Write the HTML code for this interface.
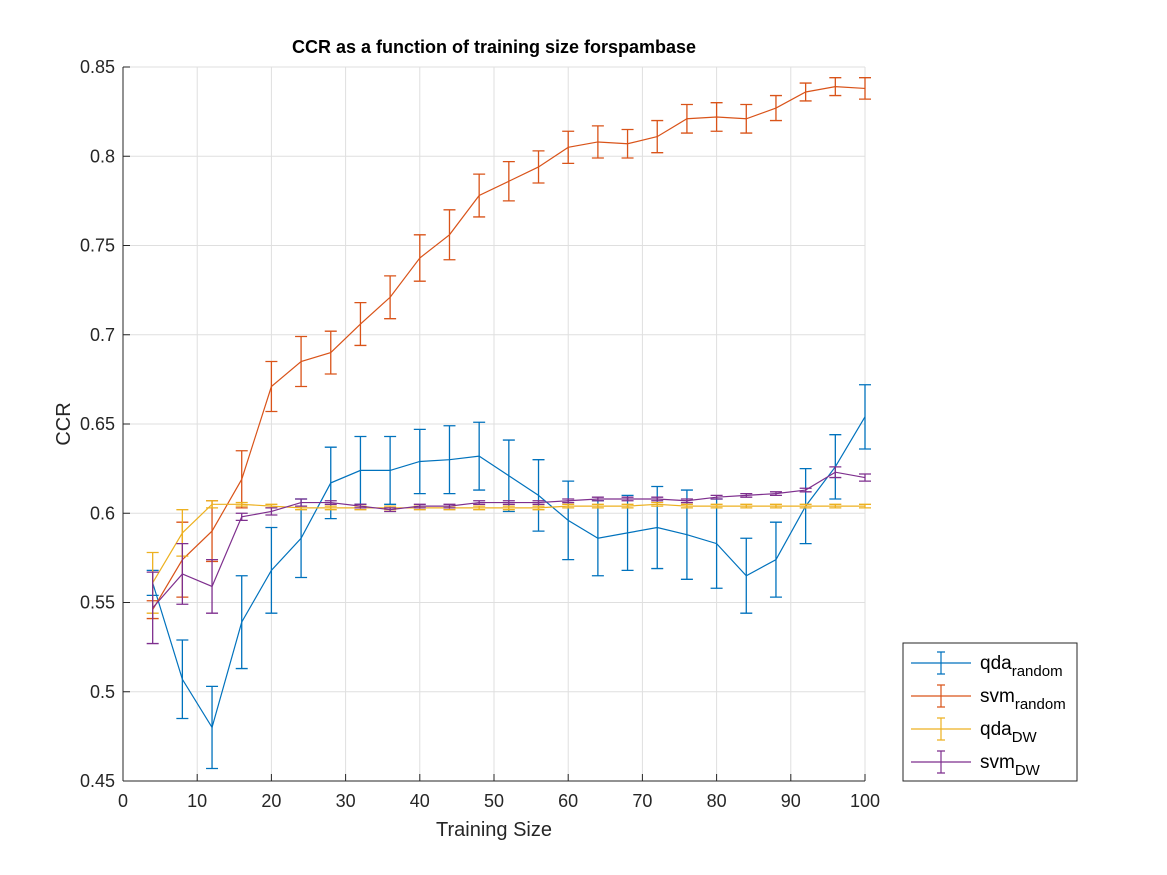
<!DOCTYPE html>
<html><head><meta charset="utf-8"><style>
body{margin:0;background:#fff}
svg{display:block;font-family:"Liberation Sans",Arial,sans-serif}
</style></head><body>
<svg id="chart" width="1167" height="875">
<rect width="1167" height="875" fill="#fff"/>
<g id="grid"></g>
<g id="series"></g>
<g id="axes"></g>
<text x="494" y="53" text-anchor="middle" font-size="18" font-weight="bold">CCR as a function of training size forspambase</text>
<text x="494" y="836" text-anchor="middle" font-size="20" fill="#262626">Training Size</text>
<text x="0" y="0" transform="translate(70,424) rotate(-90)" text-anchor="middle" font-size="20" fill="#262626">CCR</text>
<g id="legend"></g>
</svg>
<script>
const xs=[4,8,12,16,20,24,28,32,36,40,44,48,52,56,60,64,68,72,76,80,84,88,92,96,100];
const qdaRandom=[0.561,0.507,0.480,0.539,0.568,0.586,0.617,0.624,0.624,0.629,0.630,0.632,0.621,0.610,0.596,0.586,0.589,0.592,0.588,0.583,0.565,0.574,0.604,0.626,0.654];
const qdaRandomErr=[0.007,0.022,0.023,0.026,0.024,0.022,0.020,0.019,0.019,0.018,0.019,0.019,0.020,0.020,0.022,0.021,0.021,0.023,0.025,0.025,0.021,0.021,0.021,0.018,0.018];
const svmRandom=[0.546,0.574,0.590,0.619,0.671,0.685,0.690,0.706,0.721,0.743,0.756,0.778,0.786,0.794,0.805,0.808,0.807,0.811,0.821,0.822,0.821,0.827,0.836,0.839,0.838];
const svmRandomErr=[0.005,0.021,0.017,0.016,0.014,0.014,0.012,0.012,0.012,0.013,0.014,0.012,0.011,0.009,0.009,0.009,0.008,0.009,0.008,0.008,0.008,0.007,0.005,0.005,0.006];
const qdaDW=[0.561,0.589,0.605,0.605,0.604,0.603,0.603,0.603,0.603,0.603,0.603,0.603,0.603,0.603,0.604,0.604,0.604,0.605,0.604,0.604,0.604,0.604,0.604,0.604,0.604];
const qdaDWErr=[0.017,0.013,0.002,0.001,0.001,0.001,0.001,0.001,0.001,0.001,0.001,0.001,0.001,0.001,0.001,0.001,0.001,0.001,0.001,0.001,0.001,0.001,0.001,0.001,0.001];
const svmDW=[0.547,0.566,0.559,0.598,0.601,0.606,0.606,0.604,0.602,0.604,0.604,0.606,0.606,0.606,0.607,0.608,0.608,0.608,0.607,0.609,0.610,0.611,0.613,0.623,0.620];
const svmDWErr=[0.020,0.017,0.015,0.002,0.002,0.002,0.001,0.001,0.001,0.001,0.001,0.001,0.001,0.001,0.001,0.001,0.001,0.001,0.001,0.001,0.001,0.001,0.001,0.003,0.002];
const xTicks=[0,10,20,30,40,50,60,70,80,90,100];
const yTicks=[0.45,0.5,0.55,0.6,0.65,0.7,0.75,0.8,0.85];

const X0=123,X1=865,Y0=781,Y1=67;
const sx=v=>X0+(v-0)/(100-0)*(X1-X0);
const sy=v=>Y0-(v-0.45)/(0.85-0.45)*(Y0-Y1);
const NS='http://www.w3.org/2000/svg';
function mk(tag,attrs,parent){const e=document.createElementNS(NS,tag);for(const k in attrs)e.setAttribute(k,attrs[k]);parent.appendChild(e);return e;}
const grid=document.getElementById('grid'),axes=document.getElementById('axes'),ser=document.getElementById('series');
xTicks.forEach(t=>{
  const g=mk('line',{x1:sx(t),x2:sx(t),y1:Y1,y2:Y0,stroke:'#dfdfdf','stroke-width':1},grid);
  
  
  mk('line',{x1:sx(t),x2:sx(t),y1:Y0,y2:Y0-7,stroke:'#262626'},axes);
  const tx=mk('text',{x:sx(t),y:Y0+26,'text-anchor':'middle','font-size':18,fill:'#262626'},axes);
  tx.textContent=t;
  
  
});
yTicks.forEach(t=>{
  const g=mk('line',{x1:X0,x2:X1,y1:sy(t),y2:sy(t),stroke:'#dfdfdf','stroke-width':1},grid);
  
  
  mk('line',{x1:X0,x2:X0+7,y1:sy(t),y2:sy(t),stroke:'#262626'},axes);
  const tx=mk('text',{x:X0-8,y:sy(t)+6,'text-anchor':'end','font-size':18,fill:'#262626'},axes);
  tx.textContent=String(t);
  
  
});
const xa=mk('line',{x1:X0,x2:X1,y1:Y0,y2:Y0,stroke:'#262626','stroke-width':1},axes);


const ya=mk('line',{x1:X0,x2:X0,y1:Y1,y2:Y0,stroke:'#262626','stroke-width':1},axes);



const series=[
 {name:'qda-random',vals:qdaRandom,err:qdaRandomErr,color:'#0072bd'},
 {name:'svm-random',vals:svmRandom,err:svmRandomErr,color:'#d95319'},
 {name:'qda-dw',vals:qdaDW,err:qdaDWErr,color:'#edb120'},
 {name:'svm-dw',vals:svmDW,err:svmDWErr,color:'#7e2f8e'}
];
series.forEach(s=>{
  const g=mk('g',{},ser);
  
  
  const pl=mk('polyline',{points:xs.map((x,i)=>sx(x)+','+sy(s.vals[i])).join(' '),fill:'none',stroke:s.color,'stroke-width':1.2},g);
  
  
  xs.forEach((x,i)=>{
    const cx=sx(x),yt=sy(s.vals[i]+s.err[i]),yb=sy(s.vals[i]-s.err[i]);
    const eb=mk('path',{d:`M${cx},${yt}V${yb}M${cx-6},${yt}H${cx+6}M${cx-6},${yb}H${cx+6}`,stroke:s.color,'stroke-width':1.3,fill:'none'},g);
    
    
  });
});

const leg=document.getElementById('legend');
mk('rect',{x:903,y:643,width:174,height:138,fill:'#fff',stroke:'#262626','stroke-width':1},leg);
const labels=[['qda','random'],['svm','random'],['qda','DW'],['svm','DW']];
series.forEach((s,i)=>{
  const cy=663+i*33;
  const e=mk('g',{},leg);
  
  
  mk('path',{d:`M911,${cy}H971M941,${cy-11}V${cy+11}M937,${cy-11}H945M937,${cy+11}H945`,stroke:s.color,'stroke-width':1.2,fill:'none'},e);
  const t=mk('text',{x:980,y:cy+6,'font-size':19,fill:'#000'},e);
  t.textContent=labels[i][0];
  const sub=mk('tspan',{dy:7,'font-size':15},t);
  sub.textContent=labels[i][1];
});
</script>
</body></html>
